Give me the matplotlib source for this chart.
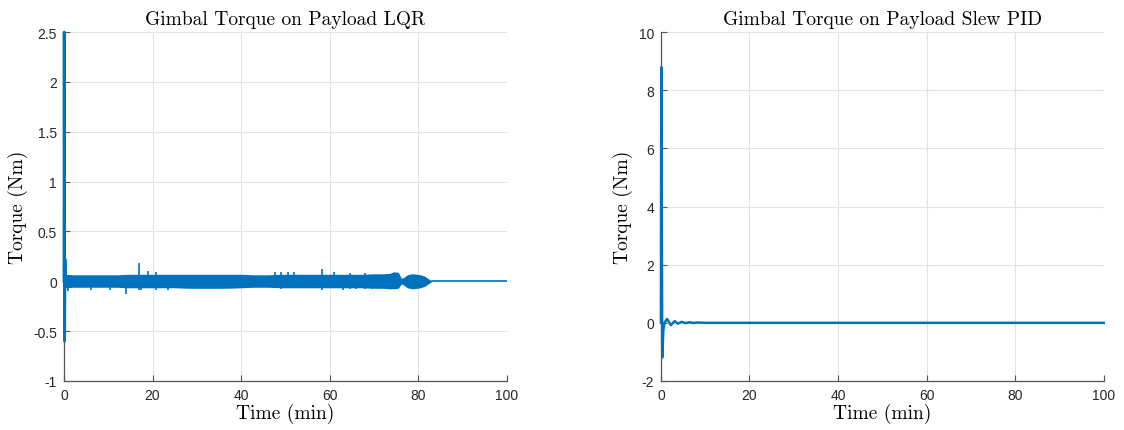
import numpy as np
import matplotlib.pyplot as plt

# LQR run: startup transient, then a dense chatter band, then settled
lqr_start_t = [0.0, 0.05, 0.15, 0.25, 0.3]
lqr_start_v = [0.0, 2.5, -0.6, 0.22, 0.0]

band_t = [0.3, 2, 4, 6, 8, 10, 12, 14, 16, 18, 20, 22, 25, 28, 31, 34, 37, 40,
          43, 46, 49, 52, 55, 58, 61, 64, 67, 70, 72, 73.5, 74.5, 75.5, 76.2,
          76.8, 77.5, 78.5, 79.5, 80.5, 81.5, 82.3, 83]
band_hi = [0.07, 0.065, 0.065, 0.065, 0.065, 0.065, 0.065, 0.07, 0.07, 0.07,
           0.07, 0.07, 0.07, 0.07, 0.07, 0.07, 0.07, 0.07, 0.065, 0.065, 0.07,
           0.07, 0.07, 0.07, 0.07, 0.07, 0.07, 0.075, 0.075, 0.08, 0.095, 0.09,
           0.03, 0.04, 0.065, 0.075, 0.072, 0.065, 0.05, 0.025, 0.005]
band_lo = [-0.065, -0.06, -0.06, -0.06, -0.06, -0.06, -0.06, -0.065, -0.065,
           -0.065, -0.065, -0.065, -0.065, -0.07, -0.07, -0.07, -0.07, -0.065,
           -0.06, -0.06, -0.065, -0.065, -0.065, -0.065, -0.065, -0.065, -0.065,
           -0.07, -0.07, -0.075, -0.075, -0.07, -0.025, -0.04, -0.065, -0.075,
           -0.072, -0.065, -0.05, -0.025, -0.005]

# isolated spikes sticking out of the band
spike_t = [1.0, 6.0, 10.5, 14.0, 17.0, 17.5, 19.0, 20.7, 23.6, 47.6, 49.0,
           50.5, 52.0, 58.2, 61.0, 63.0, 64.6, 66.0, 68.0, 69.5]
spike_v = [-0.10, -0.09, -0.09, -0.127, 0.18, -0.09, 0.106, 0.09, -0.085, 0.09,
           0.09, 0.09, 0.09, 0.12, 0.09, -0.09, 0.087, -0.08, 0.087, -0.08]
spike_v2 = [0.0, 0.0, 0.0, 0.0, -0.09, 0.0, 0.0, -0.085, 0.0, 0.0,
            -0.08, 0.0, 0.0, -0.09, 0.0, 0.0, -0.08, 0.0, -0.08, 0.0]

settled_t = [83, 100]
settled_v = [0.0, 0.0]

# Slew PID run
pid_t = [0.0, 0.08, 0.3, 0.55, 0.8, 1.4, 2.25, 3.1, 3.8, 4.7, 5.5, 6.4, 7.3,
         8.2, 10.0, 100.0]
pid_v = [0.0, 8.79, -1.19, -0.25, 0.0, 0.13, -0.08, 0.06, -0.03, 0.035,
         -0.01, 0.02, -0.005, 0.01, 0.0, 0.0]

blue = '#0072BD'
serif = 'cmr10'

fig = plt.figure(figsize=(11.24, 4.31), dpi=100)
ax1 = fig.add_axes([0.0569, 0.1137, 0.394, 0.8097])
ax2 = fig.add_axes([0.588, 0.1137, 0.394, 0.8097])


def style(ax, ylim, yticks, yticklabels, title):
    ax.set_xlim(0, 100)
    ax.set_ylim(*ylim)
    ax.set_xticks([0, 20, 40, 60, 80, 100])
    ax.set_yticks(yticks)
    ax.set_yticklabels(yticklabels)
    ax.grid(True, color='#e3e3e3', linewidth=0.8)
    ax.set_axisbelow(True)
    for s in ['top', 'right']:
        ax.spines[s].set_visible(False)
    for s in ['left', 'bottom']:
        ax.spines[s].set_color('#555555')
        ax.spines[s].set_linewidth(0.9)
    ax.tick_params(direction='in', length=4, width=0.8, color='#555555',
                   labelsize=10, labelcolor='#262626', pad=5)
    for lab in ax.get_xticklabels() + ax.get_yticklabels():
        lab.set_fontfamily('Liberation Sans')
    ax.set_title(title, fontfamily=serif, fontsize=14, pad=6)
    ax.set_xlabel('Time (min)', fontfamily=serif, fontsize=14, labelpad=1)
    ax.set_ylabel('Torque (Nm)', fontfamily=serif, fontsize=14, labelpad=4)


# left panel
ax1.fill_between(band_t, band_lo, band_hi, color=blue, linewidth=0)
ax1.vlines(spike_t, spike_v2, spike_v, color=blue, linewidth=1.2)
ax1.plot(lqr_start_t, lqr_start_v, color=blue, linewidth=2.0,
         zorder=3, clip_on=False)
ax1.plot(settled_t, settled_v, color=blue, linewidth=1.2)
style(ax1, (-1, 2.5), [-1, -0.5, 0, 0.5, 1, 1.5, 2, 2.5],
      ['-1', '-0.5', '0', '0.5', '1', '1.5', '2', '2.5'],
      'Gimbal Torque on Payload LQR')

# right panel
ax2.plot(pid_t, pid_v, color=blue, linewidth=1.8, zorder=3, clip_on=False)
style(ax2, (-2, 10), [-2, 0, 2, 4, 6, 8, 10],
      ['-2', '0', '2', '4', '6', '8', '10'],
      'Gimbal Torque on Payload Slew PID')

fig.savefig('out.png', dpi=100)
